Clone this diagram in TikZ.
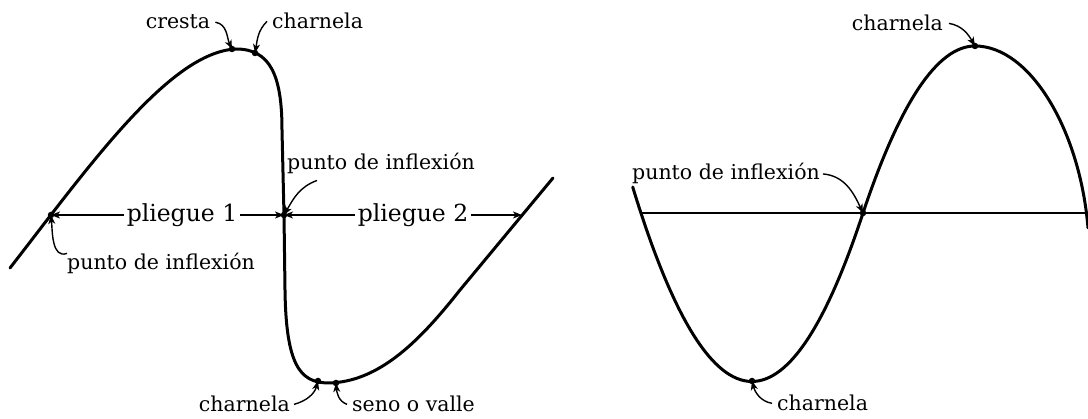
\documentclass[tikz,border=0pt]{standalone}
\usepackage{fontspec}
\setmainfont{DejaVu Serif}
\usetikzlibrary{arrows.meta,calc}
\begin{document}
\begin{tikzpicture}[x=1pt,y=-1pt,
  fold/.style={line width=3pt, line cap=round, line join=round},
  ptr/.style={line width=1.4pt, -{Stealth[length=9pt,width=7pt,inset=2.5pt]}},
  lbl/.style={font=\fontsize{20.5}{24}\selectfont, inner sep=0pt},
  big/.style={font=\fontsize{23.5}{28}\selectfont, inner sep=0pt},
  dot/.style={circle, fill, inner sep=0pt, minimum size=6.5pt}]
\useasboundingbox (0,0) rectangle (1088,419);
% ---------- left figure ----------
\draw[fold] (10,268) .. controls (90,165) and (170,52) .. (236,49)
  .. controls (270,49) and (282,75) .. (282,130) -- (284,215) -- (285,290)
  .. controls (286,365) and (300,382) .. (327,383)
  .. controls (380,383) and (422,338) .. (460,290) -- (553,178);
\node[dot] (cr) at (232,49) {};
\node[dot] (ch1) at (255,53) {};
\node[dot] (ip1) at (51,215) {};
\node[dot] (ip2) at (284,215) {};
\node[dot] (ch2) at (318,381) {};
\node[dot] (sv) at (336,383) {};
\coordinate (pe) at (522,215);
\node[lbl, anchor=base] (tcresta) at (178,29) {cresta};
\node[lbl, anchor=base west] (tch1) at (272,29) {charnela};
\node[lbl, anchor=base west] (tpi2) at (287,170) {punto de inflexión};
\node[big, anchor=base] (tpl1) at (182,222) {pliegue 1};
\node[big, anchor=base] (tpl2) at (413,222) {pliegue 2};
\node[lbl, anchor=base west] (tpi1) at (67,270) {punto de inflexión};
\node[lbl, anchor=base east] (tch2) at (290,412) {charnela};
\node[lbl, anchor=base west] (tsv) at (352,412) {seno o valle};
\draw[ptr] ([xshift=5pt]tcresta.east) to[out=-10, in=115] (cr.center);
\draw[ptr] ([xshift=-5pt]tch1.west) to[out=225, in=80] (ch1.center);
\draw[ptr] ($(tpi2.south west)+(30,6)$) to[out=200, in=60] (ip2.center);
\draw[ptr] ([xshift=-3pt]ip1.center -| tpl1.west) -- (ip1.center);
\draw[ptr] ([xshift=3pt]ip2.center -| tpl1.east) -- (ip2.center);
\draw[ptr] ([xshift=-3pt]ip2.center -| tpl2.west) -- (ip2.center);
\draw[ptr] ([xshift=3pt]pe -| tpl2.east) -- (pe);
\draw[ptr] (tpi1.north west) to[out=200, in=-85] (ip1.center);
\draw[ptr] ([xshift=4pt]tch2.east) to[out=15, in=-105] (ch2.center);
\draw[ptr] ([xshift=-5pt]tsv.west) to[out=160, in=-85] (sv.center);
% ---------- right figure ----------
\coordinate (hl0) at (640,213);
\coordinate (hl1) at (1088,213);
\draw[line width=1.6pt] (hl0) -- (hl1);
\draw[fold] (632.7,187) .. controls (709,437) and (786.3,446.3) .. (863,213)
  .. controls (900.3,101.7) and (937.7,46) .. (975,46)
  .. controls (1030,46) and (1080,130) .. (1088,228);
\node[dot] (tr3) at (752,381) {};
\node[dot] (ip3) at (863,213) {};
\node[dot] (cr3) at (975,46) {};
\node[lbl, anchor=base east] (tpi3) at (820,180) {punto de inflexión};
\node[lbl, anchor=base east] (tch3) at (943,31) {charnela};
\node[lbl, anchor=base west] (tch4) at (777,411) {charnela};
\draw[ptr] ([xshift=3pt]tpi3.east) to[out=-5, in=115] (ip3.center);
\draw[ptr] ([xshift=6pt]tch3.east) to[out=-10, in=120] (cr3.center);
\draw[ptr] ([xshift=-5pt]tch4.west) to[out=170, in=-75] (tr3.center);
\end{tikzpicture}
\end{document}
